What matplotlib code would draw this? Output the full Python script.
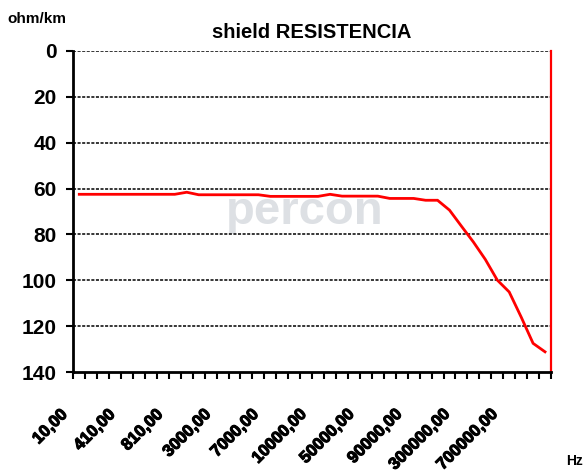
import matplotlib
matplotlib.use("Agg")
import matplotlib.pyplot as plt
from matplotlib.transforms import offset_copy
import matplotlib.patheffects as pe

plt.rcParams['font.family'] = ['Liberation Sans', 'DejaVu Sans']

# ---- data ----
frequencies = [
    "10,00", "110,00", "210,00", "310,00", "410,00", "510,00", "610,00", "710,00",
    "810,00", "910,00", "1000,00", "2000,00", "3000,00", "4000,00", "5000,00", "6000,00",
    "7000,00", "8000,00", "9000,00", "9500,00", "10000,00", "20000,00", "30000,00", "40000,00",
    "50000,00", "60000,00", "70000,00", "80000,00", "90000,00", "95000,00", "100000,00", "200000,00",
    "300000,00", "400000,00", "500000,00", "600000,00", "700000,00", "800000,00", "900000,00", "1000000,00",
]
resistance = [
    62.5, 62.5, 62.5, 62.5, 62.5, 62.5, 62.5, 62.5,
    62.5, 61.6, 62.7, 62.7, 62.7, 62.7, 62.7, 62.7,
    63.4, 63.4, 63.4, 63.4, 63.4, 62.5, 63.3, 63.3,
    63.3, 63.3, 64.3, 64.3, 64.3, 65.1, 65.1, 69.4,
    76.4, 83.3, 90.9, 99.9, 105.1, 116.0, 127.5, 131.2,
]
label_step = 4
tick_labels = frequencies[::label_step]
y_ticks = [0, 20, 40, 60, 80, 100, 120, 140]

W, H = 583, 473
fig = plt.figure(figsize=(W / 100, H / 100), dpi=100)
left, right, top, bottom = 73.3, 551, 51, 372
ax = fig.add_axes([left / W, 1 - bottom / H, (right - left) / W, (bottom - top) / H])

n = len(frequencies)
xs = [i + 0.5 for i in range(n)]

# watermark
ax.text(0.485, 0.50, "percon", transform=ax.transAxes, ha="center", va="center",
        fontsize=34, fontweight="bold", color="#dde0e4", zorder=0)

# grid
for yv in y_ticks[:-1]:
    ax.axhline(yv, color="black", lw=1.1, ls=(0, (2, 1)), zorder=1)

ax.plot(xs, resistance, color="#ff0000", lw=2, zorder=3, solid_joinstyle="miter")

ax.set_xlim(0, n)
ax.set_ylim(140, 0)

# spines
ax.spines["left"].set_color("black")
ax.spines["left"].set_linewidth(2)
ax.spines["bottom"].set_color("black")
ax.spines["bottom"].set_linewidth(2)
ax.spines["right"].set_color("#ff0000")
ax.spines["right"].set_linewidth(1.6)
ax.spines["top"].set_visible(False)

# y ticks
ax.set_yticks(y_ticks)
ax.set_yticklabels([str(v) for v in y_ticks], fontsize=15, fontweight="bold")
ax.tick_params(axis="y", direction="out", length=5, width=1.5, pad=7)

# x ticks at category boundaries, no default labels
ax.set_xticks(range(n + 1))
ax.set_xticklabels([])
ax.tick_params(axis="x", direction="out", length=5, width=1.5)

trans = offset_copy(ax.get_xaxis_transform(), fig=fig, x=-20, y=-35, units="dots")
for k, lab in enumerate(tick_labels):
    ax.text(xs[k * label_step], 0, lab, transform=trans, rotation=45,
            rotation_mode="anchor", ha="right", va="top",
            fontsize=12, fontweight="bold", clip_on=False,
            path_effects=[pe.withStroke(linewidth=0.8, foreground="black")])

ax.set_title("shield RESISTENCIA", fontsize=14.5, fontweight="bold", pad=9)
fig.text(7 / W, 1 - 23 / H, "ohm/km", fontsize=11, fontweight="bold", ha="left", va="baseline")
fig.text(566 / W, 1 - 465 / H, "Hz", fontsize=10, fontweight="bold", ha="left", va="baseline")

fig.savefig("out.png", dpi=100)
